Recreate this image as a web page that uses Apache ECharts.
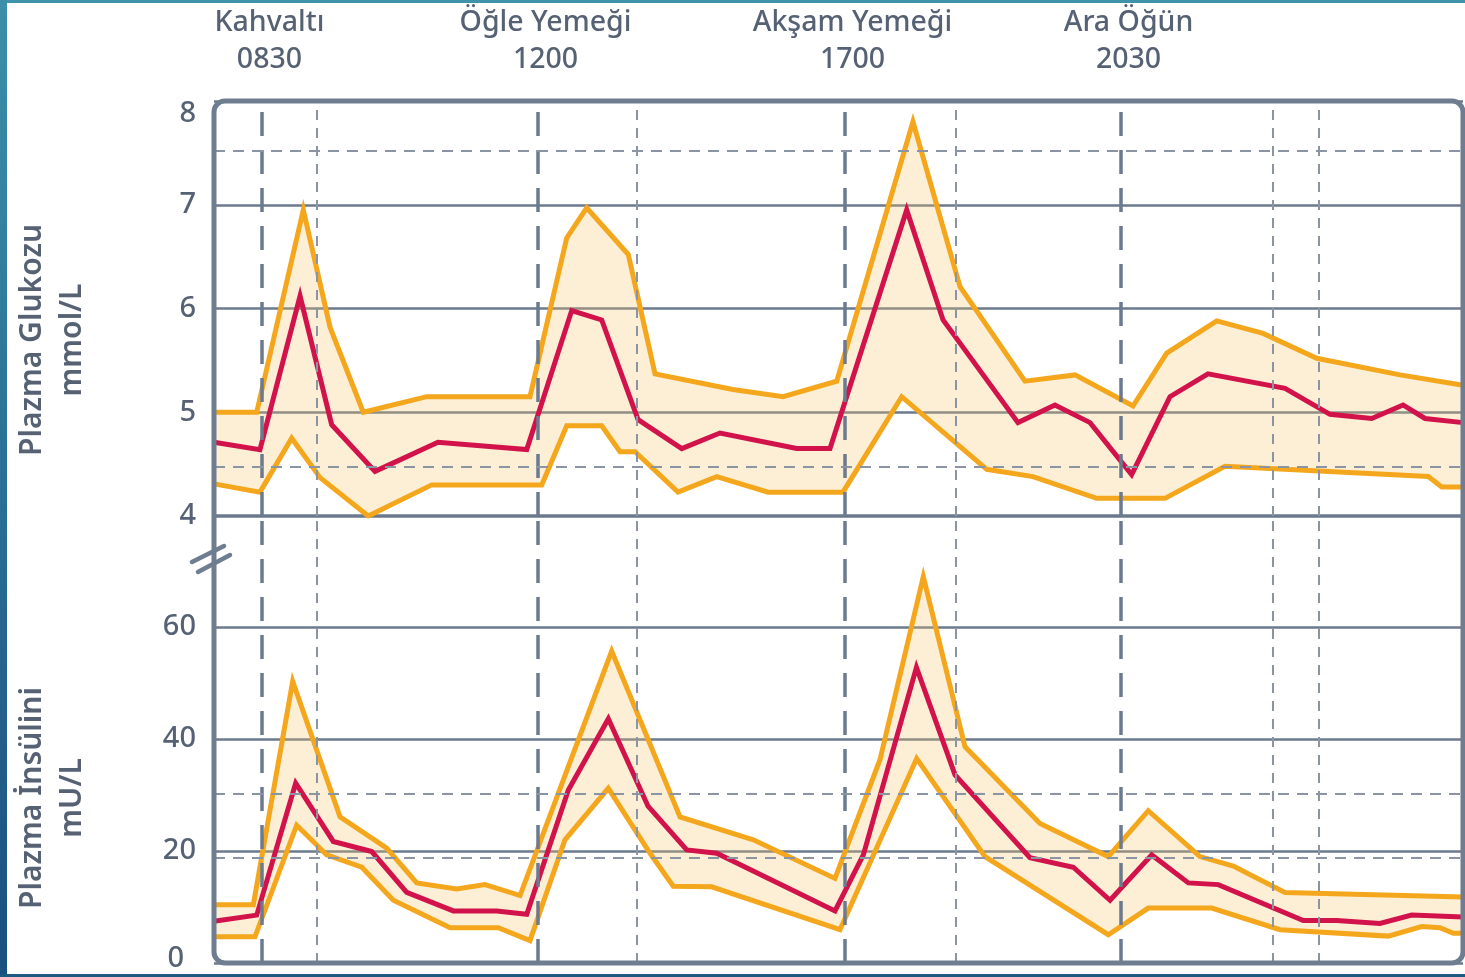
<!DOCTYPE html>
<html>
<head>
<meta charset="utf-8">
<script src="https://cdn.jsdelivr.net/npm/echarts@6/dist/echarts.min.js"></script>
<style>
  html, body { margin: 0; padding: 0; background: #fff; }
  #chart { width: 1465px; height: 977px; position: relative; }
  .edge { position: absolute; z-index: 10; }
</style>
</head>
<body>
<div id="chart"></div>
<div class="edge" style="left:0;top:0;width:1465px;height:3px;background:#3f93aa;"></div>
<div class="edge" style="left:0;top:0;width:7px;height:977px;background:linear-gradient(#3b8fa9,#1b4f7f);"></div>
<div class="edge" style="left:0;top:974px;width:1465px;height:3px;background:#1c5a80;"></div>
<script>
// x = position along the time axis (0–100 % of the plotted span)
const mealPos    = [3.84, 25.94, 50.52, 72.62];
const mealNames  = ['Kahvaltı', 'Öğle Yemeği', 'Akşam Yemeği', 'Ara Öğün'];
const mealTimes  = ['0830', '1200', '1700', '2030'];
const minorPos   = [8.25, 33.87, 59.41, 84.79, 88.47];

const glucoseTicks = [4, 5, 6, 7, 8];
const insulinTicks = [0, 20, 40, 60];
const glucoseRefLines = [7.52, 4.47];
const insulinRefLines = [30.3, 18.8];

// Plazma glukozu (mmol/L)
const glucoseMean = [
  [0,4.71],[3.68,4.64],[6.89,6.12],[9.42,4.88],[12.89,4.43],[17.93,4.71],[25.04,4.64],
  [28.64,5.98],[31.04,5.89],[33.95,4.93],[37.45,4.65],[40.51,4.80],[46.65,4.65],[49.32,4.65],
  [55.46,6.95],[58.37,5.89],[64.37,4.90],[67.33,5.07],[70.14,4.90],[73.47,4.40],[76.54,5.15],
  [79.58,5.37],[85.75,5.23],[89.35,4.98],[92.69,4.94],[95.20,5.07],[96.96,4.94],[100,4.90]
];
const glucoseUpper = [
  [0,5.0],[3.42,5.0],[7.15,6.95],[9.29,5.82],[11.95,5.0],[17.03,5.15],[25.30,5.15],
  [28.24,6.68],[29.84,6.97],[33.17,6.52],[35.31,5.37],[41.55,5.22],[45.56,5.15],[49.86,5.30],
  [55.96,7.80],[59.73,6.21],[64.93,5.30],[68.94,5.36],[73.58,5.06],[76.28,5.57],[80.28,5.88],
  [83.99,5.76],[88.29,5.52],[94.96,5.36],[100,5.26]
];
const glucoseLower = [
  [0,4.31],[3.68,4.23],[6.22,4.75],[8.49,4.37],[12.35,4.0],[17.43,4.30],[26.24,4.30],
  [28.24,4.87],[31.04,4.87],[32.51,4.62],[33.71,4.62],[37.15,4.23],[40.25,4.38],[44.36,4.23],
  [50.36,4.23],[55.06,5.15],[61.87,4.45],[65.57,4.38],[70.67,4.17],[76.14,4.17],[80.94,4.48],
  [97.22,4.38],[98.30,4.28],[100,4.28]
];

// Plazma insülini (mU/L)
const insulinMean = [
  [0,7.45],[3.42,8.55],[6.54,32.1],[9.55,21.7],[12.63,19.9],[15.43,12.6],[19.16,9.3],
  [22.63,9.3],[25.04,8.7],[28.37,30.9],[31.57,43.6],[34.75,28.0],[37.85,20.2],[40.25,19.6],
  [49.72,9.3],[51.99,19.3],[56.24,52.8],[59.33,33.6],[65.33,18.8],[68.80,17.1],[71.74,11.2],
  [75.08,19.3],[78.01,14.3],[80.41,14.0],[87.21,7.6],[89.89,7.6],[93.35,7.05],[95.89,8.55],[100,8.2]
];
const insulinUpper = [
  [0,10.4],[3.15,10.4],[6.30,50.3],[10.09,26.1],[13.83,20.5],[16.23,14.3],[19.43,13.2],
  [21.70,14.0],[24.50,12.05],[27.97,32.7],[31.84,55.7],[37.31,26.1],[43.18,22.0],[49.72,15.1],
  [53.32,36.3],[56.79,69.0],[60.13,38.6],[66.13,24.9],[71.60,19.0],[74.80,27.2],[78.94,19.0],
  [81.61,17.3],[85.75,12.6],[100,11.8]
];
const insulinLower = [
  [0,4.67],[3.28,4.67],[6.62,24.6],[9.02,19.3],[11.83,17.1],[14.36,11.2],[18.90,6.3],
  [22.76,6.3],[25.30,4.0],[28.10,22.0],[31.57,31.2],[34.91,19.6],[36.77,13.7],[39.85,13.6],
  [50.12,5.95],[56.26,36.5],[61.73,19.0],[71.60,5.05],[74.80,9.8],[79.88,9.8],[85.35,5.95],
  [94.02,4.8],[96.69,6.5],[98.16,6.3],[99.22,5.3],[100,5.3]
];

const C = {
  text: '#566274', grid: '#6b7a8e', dash: '#8a94a2',
  orange: '#f4a71c', red: '#d2124a', fill: 'rgba(248,196,105,0.27)'
};
const FONT = '"Noto Sans", sans-serif';

function bandSeries(upper, lower, idx) {
  return {
    type: 'custom', xAxisIndex: idx, yAxisIndex: idx, silent: true, z: 1,
    data: [[0, 0]],
    renderItem: function (params, api) {
      const pts = upper.map(p => api.coord(p)).concat(lower.slice().reverse().map(p => api.coord(p)));
      return { type: 'polygon', shape: { points: pts }, style: { fill: C.fill } };
    }
  };
}
function lineSeries(data, color, idx, z) {
  return {
    type: 'line', xAxisIndex: idx, yAxisIndex: idx, data: data, symbol: 'none',
    silent: true, z: z, lineStyle: { color: color, width: 5, join: 'miter' }, animation: false
  };
}
function guideSeries(idx, refLines) {
  const data = [];
  mealPos.forEach(v => data.push({ xAxis: v, lineStyle: { color: C.grid, width: 3.5, type: [24, 14] } }));
  minorPos.forEach(v => data.push({ xAxis: v, lineStyle: { color: C.dash, width: 2, type: [10, 8] } }));
  refLines.forEach(v => data.push({ yAxis: v, lineStyle: { color: C.dash, width: 2, type: [11, 8] } }));
  return {
    type: 'line', xAxisIndex: idx, yAxisIndex: idx, data: [], z: 0,
    markLine: { silent: true, symbol: 'none', label: { show: false }, animation: false, data: data }
  };
}

const chart = echarts.init(document.getElementById('chart'));
chart.setOption({
  animation: false,
  backgroundColor: '#ffffff',
  grid: [
    { left: 214, right: 2, top: 101, bottom: 461 },
    { left: 214, right: 2, top: 515, bottom: 14 }
  ],
  xAxis: [
    {
      gridIndex: 0, type: 'value', min: 0, max: 100, position: 'top',
      axisLine: { show: false }, axisTick: { show: false }, splitLine: { show: false },
      axisLabel: {
        customValues: mealPos, margin: 23, color: C.text, fontSize: 28.5, fontWeight: 500,
        fontFamily: FONT, lineHeight: 37, align: 'center', padding: [0, 0, 0, 15],
        formatter: function (v) {
          const i = mealPos.indexOf(v);
          return i < 0 ? '' : mealNames[i] + '\n' + mealTimes[i];
        }
      }
    },
    {
      gridIndex: 1, type: 'value', min: 0, max: 100,
      axisLine: { show: false }, axisTick: { show: false }, splitLine: { show: false },
      axisLabel: { show: false }
    }
  ],
  yAxis: [
    {
      gridIndex: 0, type: 'value', min: 4, max: 8, interval: 1,
      axisLine: { show: false }, axisTick: { show: false },
      splitLine: { lineStyle: { color: C.grid, width: 2.5 } },
      axisLabel: {
        color: C.text, fontSize: 29, fontWeight: 500, fontFamily: FONT, margin: 18,
        formatter: v => glucoseTicks.indexOf(v) >= 0 ? (v === 8 ? '{top|8}' : String(v)) : '',
        rich: { top: { fontSize: 29, fontWeight: 500, fontFamily: FONT, color: C.text, padding: [26, 0, 0, 0] } }
      }
    },
    {
      gridIndex: 1, type: 'value', min: 0, max: 80, interval: 20,
      axisLine: { show: false }, axisTick: { show: false },
      splitLine: { lineStyle: { color: C.grid, width: 2.5 } },
      axisLabel: {
        color: C.text, fontSize: 29, fontWeight: 500, fontFamily: FONT, margin: 18,
        formatter: v => insulinTicks.indexOf(v) >= 0 ? (v === 0 ? '{bot|0}' : String(v)) : '',
        rich: { bot: { fontSize: 29, fontWeight: 500, fontFamily: FONT, color: C.text, padding: [0, 12, 8, 0] } }
      }
    }
  ],
  graphic: [
    { type: 'rect', z: 100, silent: true,
      shape: { x: 214, y: 101, width: 1249, height: 862, r: 11 },
      style: { fill: 'none', stroke: '#6f7d90', lineWidth: 5 } },
    { type: 'line', z: 101, silent: true, shape: { x1: 192, y1: 562, x2: 224, y2: 546 },
      style: { stroke: '#6f7d90', lineWidth: 4.5, lineCap: 'round' } },
    { type: 'line', z: 101, silent: true, shape: { x1: 198, y1: 572, x2: 230, y2: 555 },
      style: { stroke: '#6f7d90', lineWidth: 4.5, lineCap: 'round' } },
    { type: 'text', z: 101, silent: true, x: 52, y: 340, rotation: Math.PI / 2,
      style: { text: 'Plazma Glukozu\nmmol/L', fill: C.text, fontSize: 30, fontWeight: 600,
               fontFamily: FONT, align: 'center', verticalAlign: 'middle', lineHeight: 40 } },
    { type: 'text', z: 101, silent: true, x: 52, y: 798, rotation: Math.PI / 2,
      style: { text: 'Plazma İnsülini\nmU/L', fill: C.text, fontSize: 30, fontWeight: 600,
               fontFamily: FONT, align: 'center', verticalAlign: 'middle', lineHeight: 40 } }
  ],
  series: [
    guideSeries(0, glucoseRefLines),
    guideSeries(1, insulinRefLines),
    bandSeries(glucoseUpper, glucoseLower, 0),
    bandSeries(insulinUpper, insulinLower, 1),
    lineSeries(glucoseUpper, C.orange, 0, 3),
    lineSeries(glucoseLower, C.orange, 0, 3),
    lineSeries(glucoseMean, C.red, 0, 4),
    lineSeries(insulinUpper, C.orange, 1, 3),
    lineSeries(insulinLower, C.orange, 1, 3),
    lineSeries(insulinMean, C.red, 1, 4)
  ]
});
</script>
</body>
</html>
